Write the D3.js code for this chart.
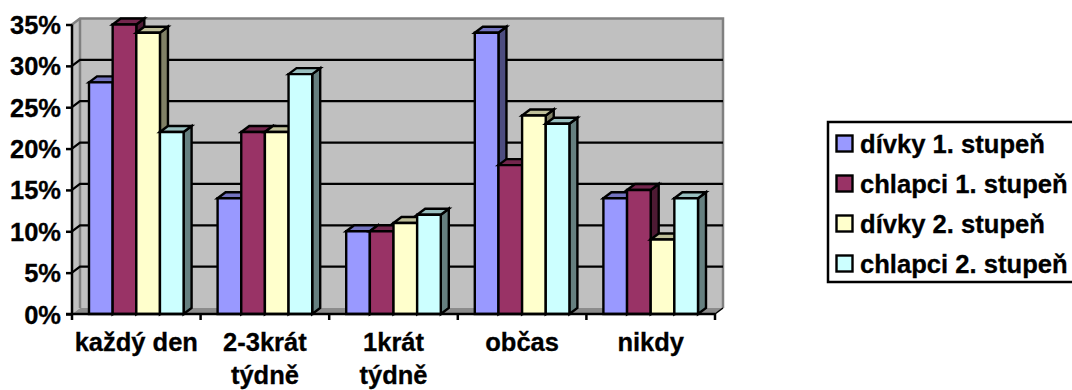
<!DOCTYPE html>
<html><head><meta charset="utf-8">
<script src="https://cdn.jsdelivr.net/npm/d3@7"></script>
<style>html,body{margin:0;background:#fff}svg{display:block}text{font-family:"Liberation Sans",Arial,sans-serif;font-weight:bold;fill:#000;stroke:#000;stroke-width:.3px}</style>
</head><body><svg id="c" width="1072" height="390"></svg>
<script>
const categories=[["každý den"],["2-3krát","týdně"],["1krát","týdně"],["občas"],["nikdy"]];
const seriesNames=["dívky 1. stupeň","chlapci 1. stupeň","dívky 2. stupeň","chlapci 2. stupeň"];
const girls1=[28,14,10,34,14];
const boys1=[35,22,10,18,15];
const girls2=[34,22,11,24,9];
const boys2=[22,29,12,23,14];
const seriesValues=[girls1,boys1,girls2,boys2];
const fronts=["#9999ff","#993366","#ffffcc","#ccffff"];
const tops=["#7373bf","#73264d","#bfbf99","#99bfbf"];
const sides=["#4d4d80","#4d1a33","#808066","#668080"];
const yTicks=[0,5,10,15,20,25,30,35];

const svg=d3.select("#c");
const dx=8,dy=6,L=72,R=715,B=314,T=24.5;
const x0=d3.scaleBand().domain(d3.range(categories.length)).range([L,R]);
const x1=d3.scaleBand().domain(d3.range(seriesNames.length)).range([17,x0.bandwidth()-17]);
const y=d3.scaleLinear().domain([0,35]).range([B,T]);
const poly=(pts,fill,stroke,w)=>svg.append("polygon").attr("points",pts.map(p=>p.join(",")).join(" ")).attr("fill",fill).attr("stroke",stroke||"none").attr("stroke-width",w||0).attr("stroke-linejoin","miter");

// walls and floor
poly([[L+dx,B-dy],[R+dx,B-dy],[R+dx,T-dy],[L+dx,T-dy]],"#c0c0c0");
poly([[L,B],[L+dx,B-dy],[L+dx,T-dy],[L,T]],"#c0c0c0");
poly([[L,B],[R,B],[R+dx,B-dy],[L+dx,B-dy]],"#8c8c8c");
svg.append("path").attr("d",`M${L},${T}L${L+dx},${T-dy}H${R+dx}V${B-dy}`).attr("fill","none").attr("stroke","#808080").attr("stroke-width",2.5);
svg.append("path").attr("d",`M${L+dx},${T-dy}V${B-dy}`).attr("fill","none").attr("stroke","#808080").attr("stroke-width",2.5);

// gridlines
svg.append("g").selectAll("path").data(yTicks.filter(t=>t>0&&t<35)).join("path")
 .attr("d",t=>`M${L},${y(t)}L${L+dx},${y(t)-dy}H${R+dx}`).attr("fill","none").attr("stroke","#000").attr("stroke-width",2.2);

// bars
categories.forEach((c,i)=>{
  seriesValues.forEach((vals,s)=>{
    const xl=x0(i)+x1(s),xr=xl+x1.bandwidth(),yt=y(vals[i]);
    poly([[xr,B],[xr+dx,B-dy],[xr+dx,yt-dy],[xr,yt]],sides[s],"#000",2.4);
    poly([[xl,yt],[xl+dx,yt-dy],[xr+dx,yt-dy],[xr,yt]],tops[s],"#000",2.4);
    poly([[xl,B],[xr,B],[xr,yt],[xl,yt]],fronts[s],"#000",2.4);
  });
});

// y axis
const ya=svg.append("g").attr("transform",`translate(${L},0)`)
 .call(d3.axisLeft(y).tickValues(yTicks).tickFormat(d=>d+"%").tickSize(6).tickPadding(5));
ya.selectAll("path,line").attr("stroke","#000").attr("stroke-width",2.5);
ya.select(".domain").attr("d",`M0,${T}V${B+1}`);
ya.selectAll("text").attr("font-size",25.5).attr("font-family",null).attr("dy",null).attr("dominant-baseline",null)
 .attr("y",9);

// x axis
const edges=d3.range(categories.length+1).map(i=>i<categories.length?x0(i):R);
const xa=svg.append("g");
xa.append("line").attr("x1",L-6).attr("x2",R).attr("y1",B).attr("y2",B).attr("stroke","#000").attr("stroke-width",2.5);
xa.selectAll("line.t").data(edges).join("line").attr("class","t").attr("x1",d=>d).attr("x2",d=>d).attr("y1",B).attr("y2",B+6).attr("stroke","#000").attr("stroke-width",2.5);
xa.append("path").attr("d",`M${R},${B}L${R+dx},${B-dy}`).attr("stroke","#000").attr("stroke-width",1.5);
const lab=xa.selectAll("text").data(categories).join("text").attr("font-size",25.5).attr("text-anchor","middle");
lab.selectAll("tspan").data((d,i)=>d.map((t,j)=>({t,j,i}))).join("tspan")
 .attr("x",d=>x0(d.i)+x0.bandwidth()/2).attr("y",d=>351+d.j*33).text(d=>d.t);

// legend
const lg=svg.append("g");
lg.append("rect").attr("x",828).attr("y",122).attr("width",260).attr("height",160).attr("fill","#fff").attr("stroke","#000").attr("stroke-width",2.5);
seriesNames.forEach((n,s)=>{
  const cy=144+s*40;
  lg.append("rect").attr("x",836.5).attr("y",cy-8.5).attr("width",16).attr("height",16).attr("fill",fronts[s]).attr("stroke","#000").attr("stroke-width",2.4);
  lg.append("text").attr("x",860).attr("y",cy+9).attr("font-size",25.6).text(n);
});
</script></body></html>
